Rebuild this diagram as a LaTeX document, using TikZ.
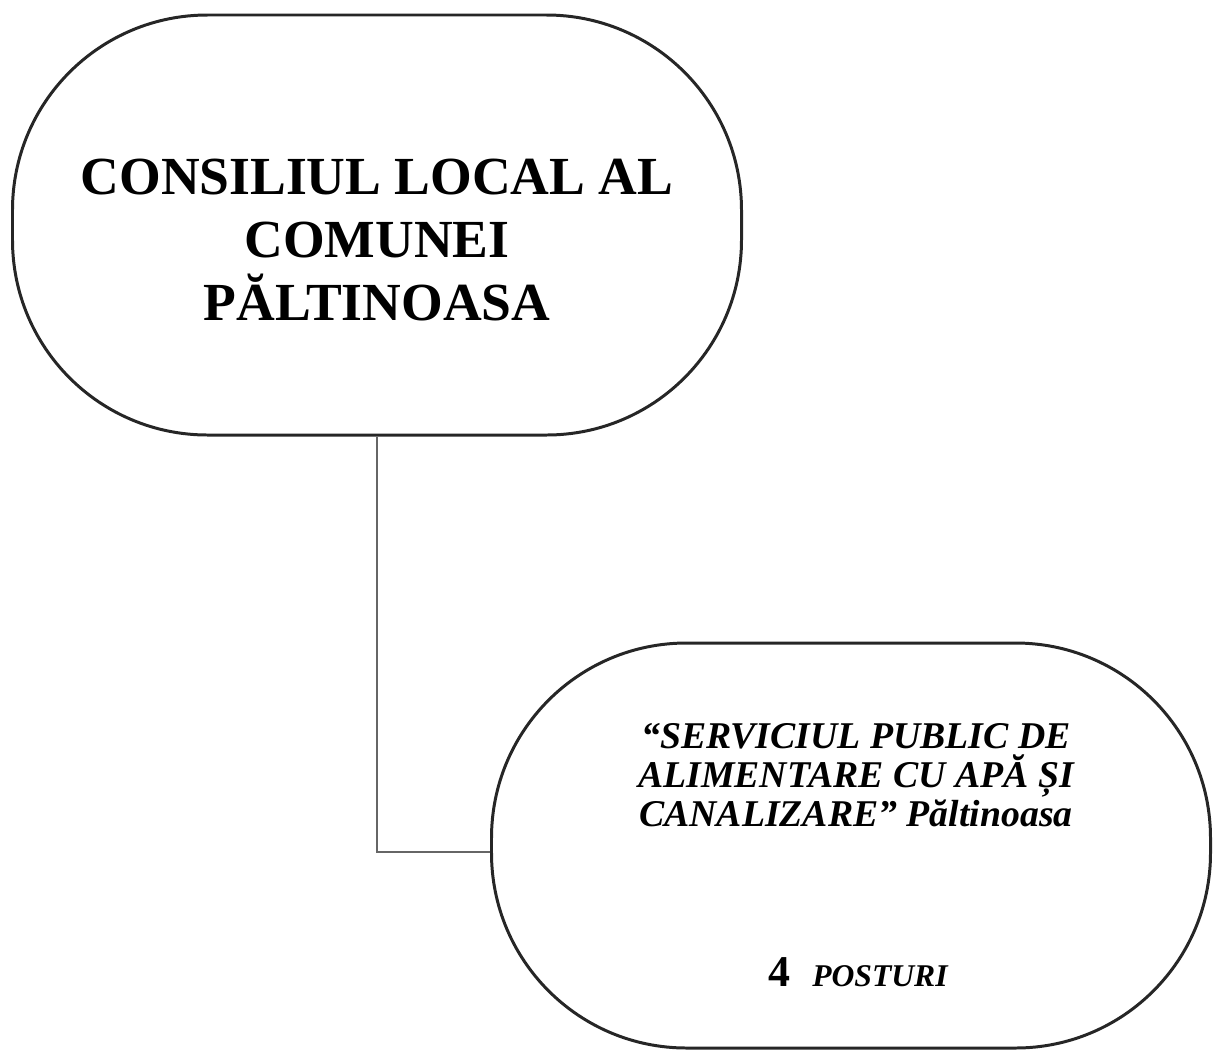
\documentclass[tikz,border=0pt]{standalone}
\usepackage{fontspec}
\setmainfont{Liberation Serif}
\usepackage{tikz}

\tikzset{
  unitbox/.style={draw=black!85, line width=1.7pt, rectangle, rounded corners=3.9cm},
  link/.style={draw=black!60, line width=0.8pt}
}

\begin{document}
\begin{tikzpicture}
        \useasboundingbox (0,0) rectangle (24.3,-21.18);

        % Boxes
        \node[unitbox, minimum width=14.58cm, minimum height=8.4cm] (consiliu) at (7.54,-4.5) {};
        \node[unitbox, minimum width=14.38cm, minimum height=8.1cm] (serviciu) at (17.02,-16.91) {};

        % Labels
        \node[align=center, font=\fontsize{30.5}{36}\selectfont\bfseries] (consiliutext) at (7.54,-4.8)
          {CONSILIUL LOCAL AL\\COMUNEI\\PĂLTINOASA};
        \node[align=center, font=\fontsize{21.5}{22}\selectfont\bfseries\itshape] (serviciutext) at (17.12,-15.5)
          {“SERVICIUL PUBLIC DE\\ALIMENTARE CU APĂ ȘI\\CANALIZARE” Păltinoasa};
        \node[font=\bfseries] (posturi) at (17.16,-19.44)
          {\fontsize{25}{26}\selectfont 4\ \ \fontsize{18}{19}\selectfont\itshape POSTURI};

        % Connector
        \draw[link] (consiliu.south) |- ([yshift=-0.13cm]serviciu.west);
    \end{tikzpicture}
\end{document}
